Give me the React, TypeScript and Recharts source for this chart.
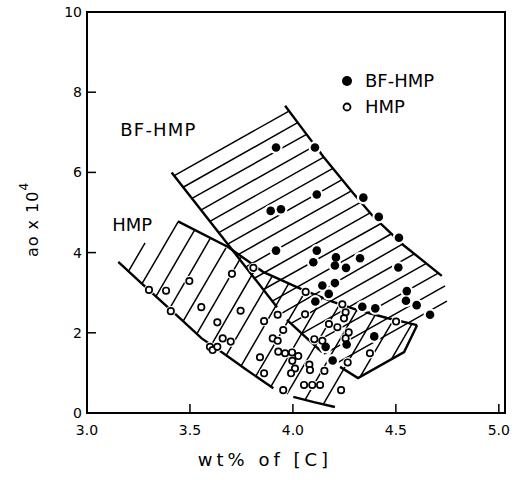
import { ComposedChart, Label, Line, ReferenceArea, ReferenceDot, Scatter, XAxis, YAxis } from 'recharts'

type Pt = [number, number]
type Seg = [number, number, number, number]

const xTicks = [3, 3.5, 4, 4.5, 5]
const yTicks = [0, 2, 4, 6, 8, 10]

// measured points, [wt% C, ao x 10^4]
const bfHmpPoints: Pt[] = [
  [3.918, 6.62], [4.107, 6.62], [4.116, 5.45], [3.892, 5.04], [3.942, 5.08], [4.342, 5.37],
  [4.417, 4.89], [4.515, 4.37], [3.918, 4.05], [4.116, 4.05], [4.099, 3.76], [4.209, 3.88],
  [4.204, 3.68], [4.258, 3.62], [4.326, 3.86], [4.512, 3.63], [4.143, 3.18], [4.204, 3.24],
  [4.174, 2.97], [4.109, 2.78], [4.553, 3.04], [4.549, 2.8], [4.601, 2.69], [4.337, 2.65],
  [4.4, 2.61], [4.666, 2.45], [4.395, 1.91], [4.159, 1.65], [4.261, 1.71], [4.193, 1.31],
]

const hmpPoints: Pt[] = [
  [3.301, 3.07], [3.384, 3.05], [3.407, 2.54], [3.497, 3.29], [3.555, 2.64], [3.704, 3.47],
  [3.808, 3.62], [3.633, 2.26], [3.746, 2.55], [3.659, 1.86], [3.698, 1.78], [3.597, 1.65],
  [3.61, 1.57], [3.633, 1.65], [3.86, 2.29], [3.926, 2.45], [3.953, 2.07], [3.902, 1.86],
  [3.926, 1.8], [3.84, 1.39], [3.86, 0.99], [3.929, 1.53], [3.962, 1.49], [3.996, 1.51],
  [4.026, 1.42], [3.997, 1.3], [4.01, 1.11], [3.991, 0.99], [3.953, 0.57], [4.062, 3.02],
  [4.059, 2.46], [4.08, 1.21], [4.083, 1.07], [4.054, 0.7], [4.094, 0.7], [4.132, 0.7],
  [4.153, 1.05], [4.104, 1.84], [4.143, 1.8], [4.175, 2.22], [4.216, 2.14], [4.24, 2.71],
  [4.256, 2.51], [4.248, 2.36], [4.271, 2.01], [4.256, 1.86], [4.266, 1.26], [4.234, 0.57],
  [4.374, 1.49], [4.501, 2.28],
]

// outlines of the shaded fields
const bfLeftEdge: Pt[] = [[3.411, 6.0], [3.923, 2.64]]
const bfRightEdge: Pt[] = [
  [3.962, 7.66], [4.05, 7.06], [4.148, 6.39], [4.293, 5.48], [4.39, 4.9], [4.536, 4.19], [4.723, 3.42],
]
const hmpTopEdge: Pt[] = [
  [3.442, 4.78], [3.685, 4.14], [3.855, 3.52], [4.049, 3.07], [4.195, 2.77], [4.311, 2.57], [4.457, 2.37], [4.603, 2.19],
]
const hmpBottomEdge: Pt[] = [
  [3.152, 3.77], [3.257, 3.27], [3.452, 2.36], [3.557, 1.86], [3.662, 1.49], [3.776, 1.07], [3.905, 0.62],
]
const hmpBottomArc: Pt[] = [[4.002, 0.4], [4.102, 0.27], [4.204, 0.15]]
const midEdge: Pt[] = [[3.971, 2.32], [4.141, 1.52]]
const boxEdge: Pt[] = [[4.229, 1.15], [4.316, 0.87], [4.54, 1.52], [4.603, 2.19]]

// hatching
const bfHatch: Seg[] = [
  [3.424, 5.92, 3.981, 7.53], [3.467, 5.63, 4.023, 7.24], [3.51, 5.35, 4.066, 6.95],
  [3.553, 5.06, 4.108, 6.67], [3.597, 4.78, 4.15, 6.38], [3.64, 4.5, 4.194, 6.1],
  [3.683, 4.21, 4.239, 5.82], [3.727, 3.93, 4.284, 5.54], [3.77, 3.64, 4.33, 5.26],
  [3.813, 3.36, 4.375, 4.99], [3.857, 3.08, 4.426, 4.72], [3.9, 2.79, 4.479, 4.47],
  [3.947, 2.49, 4.532, 4.21], [3.989, 2.23, 4.59, 3.97], [4.043, 1.98, 4.648, 3.73],
  [4.097, 1.73, 4.706, 3.49], [4.151, 1.47, 4.739, 3.17], [4.204, 1.22, 4.748, 2.79],
]
const hmpHatch: Seg[] = [
  [3.202, 3.54, 3.282, 4.24], [3.268, 3.23, 3.443, 4.77], [3.335, 2.91, 3.521, 4.55],
  [3.401, 2.6, 3.597, 4.34], [3.467, 2.29, 3.675, 4.12], [3.534, 1.98, 3.748, 3.88],
  [3.604, 1.7, 3.822, 3.63], [3.676, 1.44, 3.899, 3.41], [3.748, 1.17, 3.98, 3.23],
  [3.82, 0.92, 4.061, 3.04], [3.893, 0.66, 4.143, 2.87], [3.971, 0.47, 4.227, 2.71],
  [4.059, 0.33, 4.311, 2.57], [4.148, 0.22, 4.4, 2.45], [4.327, 0.91, 4.489, 2.33],
  [4.478, 1.34, 4.578, 2.22],
]

const bfLabel = { x: 3.347, y: 7.06 }
const hmpLabel = { x: 3.219, y: 4.71 }

const font = '"DejaVu Sans", sans-serif'

const toRows = (pts: Pt[]) => pts.map(([x, y]) => ({ x, y }))
const segRows = (segs: Seg[]) =>
  segs.flatMap(([x1, y1, x2, y2]) => [{ x: x1, y: y1 }, { x: x2, y: y2 }, { x: x2, y: null }])

const edges = [bfLeftEdge, bfRightEdge, hmpTopEdge, hmpBottomEdge, hmpBottomArc, midEdge, boxEdge]

const halo = (r: number) => (p: any) => <circle cx={p.cx} cy={p.cy} r={r} fill="#fff" />
const filledDot = (p: any) => <circle cx={p.cx} cy={p.cy} r={4.3} fill="#000" />
const openDot = (p: any) => <circle cx={p.cx} cy={p.cy} r={3.2} fill="#fff" stroke="#000" strokeWidth={1.7} />

const regionText = (text: string, spacing: number) => (p: any) => (
  <text x={p.cx} y={p.cy} textAnchor="middle" dominantBaseline="central" fontFamily={font} fontSize={18} letterSpacing={spacing} fill="#000">
    {text}
  </text>
)

function App() {
  return (
    <div style={{ position: 'absolute', left: 0, top: 0, width: 517, height: 480, background: '#fff' }}>
      <ComposedChart width={517} height={480} margin={{ top: 12, right: 12, bottom: 37, left: 27 }}>
        <XAxis
          type="number"
          dataKey="x"
          domain={[3, 5.03]}
          ticks={xTicks}
          interval={0}
          allowDataOverflow
          height={30}
          tickSize={-9}
          tickMargin={21}
          tickFormatter={(v: number) => v.toFixed(1)}
          axisLine={{ stroke: '#000', strokeWidth: 2 }}
          tickLine={{ stroke: '#000', strokeWidth: 1.5 }}
          tick={{ fill: '#000', fontSize: 14, fontFamily: font }}
        >
          <Label
            content={({ viewBox }: any) => (
              <text x={viewBox.x + viewBox.width / 2 - 31} y={viewBox.y + 53} textAnchor="middle" fontFamily={font} fontSize={18} letterSpacing={4} fill="#000">
                wt% of [C]
              </text>
            )}
          />
        </XAxis>
        <YAxis
          type="number"
          dataKey="y"
          domain={[0, 10]}
          ticks={yTicks}
          interval={0}
          allowDataOverflow
          width={60}
          tickSize={-9}
          tickMargin={14}
          axisLine={{ stroke: '#000', strokeWidth: 2 }}
          tickLine={{ stroke: '#000', strokeWidth: 1.5 }}
          tick={{ fill: '#000', fontSize: 14, fontFamily: font }}
        >
          <Label
            content={({ viewBox }: any) => {
              const cx = viewBox.x + 5
              const cy = viewBox.y + viewBox.height / 2 + 7
              return (
                <text x={cx} y={cy} transform={`rotate(-90, ${cx}, ${cy})`} textAnchor="middle" dominantBaseline="central" fontFamily={font} fontSize={16} letterSpacing={1} fill="#000">
                  ao x 10<tspan dy={-8} fontSize={12}>4</tspan>
                </text>
              )
            }}
          />
        </YAxis>
        <ReferenceArea x1={3} x2={5.03} y1={0} y2={10} fill="none" stroke="#000" strokeWidth={2} />

        <Line data={segRows(bfHatch)} dataKey="y" type="linear" stroke="#000" strokeWidth={1.5} dot={false} activeDot={false} isAnimationActive={false} />
        <Line data={segRows(hmpHatch)} dataKey="y" type="linear" stroke="#000" strokeWidth={1.5} dot={false} activeDot={false} isAnimationActive={false} />
        {edges.map((e, i) => (
          <Line key={i} data={toRows(e)} dataKey="y" type="linear" stroke="#000" strokeWidth={2.4} dot={false} activeDot={false} isAnimationActive={false} />
        ))}

        <Scatter data={toRows(hmpPoints)} shape={halo(5.2)} legendType="none" isAnimationActive={false} />
        <Scatter data={toRows(bfHmpPoints)} shape={halo(6.5)} legendType="none" isAnimationActive={false} />
        <Scatter name="HMP" data={toRows(hmpPoints)} shape={openDot} isAnimationActive={false} />
        <Scatter name="BF-HMP" data={toRows(bfHmpPoints)} shape={filledDot} isAnimationActive={false} />

        <ReferenceDot x={bfLabel.x} y={bfLabel.y} r={0} shape={regionText('BF-HMP', 1.2)} />
        <ReferenceDot x={hmpLabel.x} y={hmpLabel.y} r={0} shape={regionText('HMP', 0)} />
      </ComposedChart>

      <div style={{ position: 'absolute', left: 340, top: 68, fontFamily: font, fontSize: 18, lineHeight: '26px', color: '#000' }}>
        <div style={{ display: 'flex', alignItems: 'center' }}>
          <svg width={14} height={14}><circle cx={7} cy={7} r={5} fill="#000" /></svg>
          <span style={{ marginLeft: 11 }}>BF-HMP</span>
        </div>
        <div style={{ display: 'flex', alignItems: 'center' }}>
          <svg width={14} height={14}><circle cx={7} cy={7} r={3.5} fill="#fff" stroke="#000" strokeWidth={1.8} /></svg>
          <span style={{ marginLeft: 11 }}>HMP</span>
        </div>
      </div>
    </div>
  )
}

export default App
